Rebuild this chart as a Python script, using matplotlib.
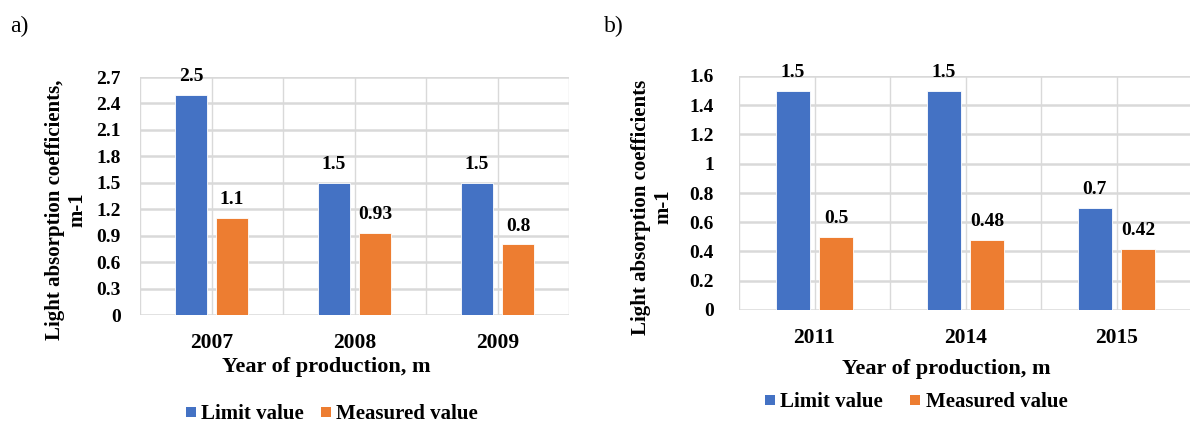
import matplotlib
matplotlib.use("Agg")
import matplotlib.pyplot as plt
import numpy as np
from matplotlib.lines import Line2D

# Data
years_a = ["2007", "2008", "2009"]
limit_a = [2.5, 1.5, 1.5]
measured_a = [1.1, 0.93, 0.8]
labels_limit_a = ["2.5", "1.5", "1.5"]
labels_meas_a = ["1.1", "0.93", "0.8"]
yticks_a = [0, 0.3, 0.6, 0.9, 1.2, 1.5, 1.8, 2.1, 2.4, 2.7]
yticklabels_a = ["0", "0.3", "0.6", "0.9", "1.2", "1.5", "1.8", "2.1", "2.4", "2.7"]

years_b = ["2011", "2014", "2015"]
limit_b = [1.5, 1.5, 0.7]
measured_b = [0.5, 0.48, 0.42]
labels_limit_b = ["1.5", "1.5", "0.7"]
labels_meas_b = ["0.5", "0.48", "0.42"]
yticks_b = [0, 0.2, 0.4, 0.6, 0.8, 1.0, 1.2, 1.4, 1.6]
yticklabels_b = ["0", "0.2", "0.4", "0.6", "0.8", "1", "1.2", "1.4", "1.6"]

series_names = ["Limit value", "Measured value"]
BLUE = "#4472C4"
ORANGE = "#ED7D31"
GRID = "#D9D9D9"

plt.rcParams['font.family'] = ['Liberation Serif', 'DejaVu Serif']
plt.rcParams['font.weight'] = 'bold'

W, H = 1190, 423
fig = plt.figure(figsize=(W / 100, H / 100), dpi=100)


def px_axes(x0, y0, x1, y1):
    return fig.add_axes([x0 / W, 1 - y1 / H, (x1 - x0) / W, (y1 - y0) / H])


def draw(ax, years, lim, meas, lab_l, lab_m, yt, ytl, ymax, off, bw, tickpad):
    x = np.arange(len(years))
    ax.bar(x - off, lim, bw, color=BLUE, edgecolor="white", linewidth=0.6, zorder=3)
    ax.bar(x + off, meas, bw, color=ORANGE, edgecolor="white", linewidth=0.6, zorder=3)
    for xi, v, t in zip(x, lim, lab_l):
        ax.annotate(t, (xi - off, v), xytext=(0, 7), textcoords="offset points",
                    ha="center", va="bottom", fontsize=14, fontweight="bold", clip_on=False)
    for xi, v, t in zip(x, meas, lab_m):
        ax.annotate(t, (xi + off, v), xytext=(0, 7), textcoords="offset points",
                    ha="center", va="bottom", fontsize=14, fontweight="bold", clip_on=False)
    ax.set_xlim(-0.5, len(years) - 0.5)
    ax.set_ylim(0, ymax)
    ax.set_yticks(yt)
    ax.set_yticklabels(ytl, fontsize=14, fontweight="bold")
    ax.set_xticks(x)
    ax.set_xticklabels(years, fontsize=15.5, fontweight="bold")
    ax.tick_params(axis="both", length=0)
    ax.tick_params(axis="y", pad=tickpad)
    ax.tick_params(axis="x", pad=13)
    for s in ax.spines.values():
        s.set_visible(False)
    for v in yt:
        ax.axhline(v, color=GRID, linewidth=1.8, zorder=1)
    for v in np.arange(-0.5, len(years) - 0.49, 0.5):
        ax.axvline(v, color=GRID, linewidth=1.0, zorder=1)


ax1 = px_axes(140, 77, 569, 315)
draw(ax1, years_a, limit_a, measured_a, labels_limit_a, labels_meas_a,
     yticks_a, yticklabels_a, 2.7, 0.143, 0.225, 14)

ax2 = px_axes(739, 76, 1192, 310)
draw(ax2, years_b, limit_b, measured_b, labels_limit_b, labels_meas_b,
     yticks_b, yticklabels_b, 1.6, 0.143, 0.22, 18)

# Axis titles
fig.text(326 / W, 1 - 367 / H, "Year of production, m", ha="center", va="center",
         fontsize=16, fontweight="bold")
fig.text(946 / W, 1 - 369 / H, "Year of production, m", ha="center", va="center",
         fontsize=16, fontweight="bold")
fig.text(66 / W, 1 - 210 / H, "Light absorption coefficients,\nm-1", ha="center", va="center",
         rotation=90, fontsize=15, fontweight="bold", linespacing=1.15, multialignment="center")
fig.text(652 / W, 1 - 207 / H, "Light absorption coefficients\nm-1", ha="center", va="center",
         rotation=90, fontsize=15, fontweight="bold", linespacing=1.15, multialignment="center")

# Panel labels
fig.text(10 / W, 1 - 26 / H, "a)", ha="left", va="center", fontsize=17, fontweight="normal")
fig.text(604 / W, 1 - 26 / H, "b)", ha="left", va="center", fontsize=17, fontweight="normal")

handles = [Line2D([], [], marker="s", linestyle="none", markersize=7, color=BLUE, markeredgewidth=0),
           Line2D([], [], marker="s", linestyle="none", markersize=7, color=ORANGE, markeredgewidth=0)]
fig.legend(handles, series_names, loc="center", bbox_to_anchor=(332 / W, 1 - 414 / H),
           ncol=2, frameon=False, prop={"size": 15, "weight": "bold"}, borderpad=0,
           handlelength=0.5, handletextpad=0.25, columnspacing=0.8)
fig.legend(handles, series_names, loc="center", bbox_to_anchor=(916 / W, 1 - 402 / H),
           ncol=2, frameon=False, prop={"size": 15, "weight": "bold"}, borderpad=0,
           handlelength=0.5, handletextpad=0.25, columnspacing=1.3)

fig.savefig("out.png", dpi=100)
